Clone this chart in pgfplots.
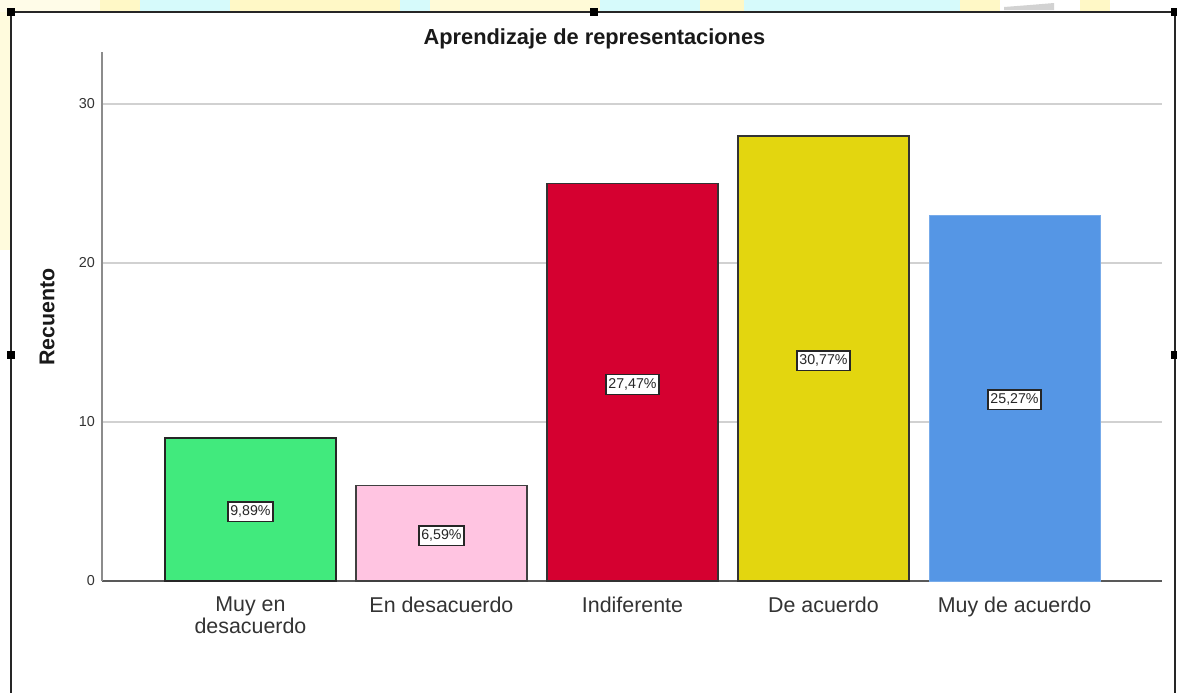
\documentclass[border=0pt]{standalone}
\usepackage{pgfplots}
\pgfplotsset{compat=1.18}
\usepackage{fontspec}
\setmainfont{Liberation Sans}
\definecolor{cgreen}{HTML}{41EA7D}
\definecolor{cpink}{HTML}{FFC4E1}
\definecolor{cred}{HTML}{D50030}
\definecolor{cyellow}{HTML}{E3D60F}
\definecolor{cblue}{HTML}{5596E5}
\definecolor{bgyel}{HTML}{FFF8C6}
\definecolor{bgcyan}{HTML}{D6FAFB}
\begin{document}
\begin{tikzpicture}
\useasboundingbox (0,0) rectangle (588.5pt,-346pt);
\fill[white] (0,0) rectangle (588.5pt,-346pt);
% decorative background strip
\begin{scope}
\clip (0,0) rectangle (588.5pt,-6pt);
\fill[bgyel!40] (0,0) rectangle (50pt,-6pt);
\fill[bgyel] (50pt,0) rectangle (70pt,-6pt);
\fill[bgcyan] (70pt,0) rectangle (115pt,-6pt);
\fill[bgyel] (115pt,0) rectangle (200pt,-6pt);
\fill[bgcyan] (200pt,0) rectangle (215pt,-6pt);
\fill[bgyel!70] (215pt,0) rectangle (300pt,-6pt);
\fill[bgcyan] (300pt,0) rectangle (350pt,-6pt);
\fill[bgyel] (350pt,0) rectangle (372pt,-6pt);
\fill[bgcyan] (372pt,0) rectangle (480pt,-6pt);
\fill[bgyel] (480pt,0) rectangle (500pt,-6pt);
\fill[gray!35] (502pt,-5pt) -- (527pt,-5pt) -- (527pt,-1.5pt) -- (515pt,-2.5pt) -- (502pt,-3.5pt) -- cycle;
\fill[bgyel] (540pt,0) rectangle (555pt,-6pt);
\end{scope}
\fill[bgyel!60] (0,-6pt) rectangle (5pt,-125pt);
\begin{axis}[
  at={(51pt,-290.5pt)}, anchor=south west,
  scale only axis, width=530pt, height=264.5pt,
  xmin=-0.777, xmax=4.772, ymin=0, ymax=33.27,
  axis x line*=bottom, axis y line*=left,
  x axis line style={-, draw=black!65, line width=0.8pt},
  y axis line style={-, draw=black!45, line width=0.8pt},
  xtick={0,1,2,3,4},
  xticklabels={{Muy en\\desacuerdo},{En desacuerdo},{Indiferente},{De acuerdo},{Muy de acuerdo}},
  xticklabel style={align=center, font=\fontsize{10.7}{11}\selectfont, text=black!80, yshift=-4.5pt},
  ytick={0,10,20,30},
  yticklabel style={font=\fontsize{7.2}{8}\selectfont, text=black!80},
  /pgf/number format/assume math mode=true,
  major tick length=0pt,
  ymajorgrids, grid style={draw=black!18, line width=1pt},
  clip=false,
]
\addplot[ybar, bar width=85.5pt, bar shift=0pt, fill=cgreen, draw=black!85, line width=0.7pt] coordinates {(0,9)};
\addplot[ybar, bar width=85.5pt, bar shift=0pt, fill=cpink, draw=black!75, line width=0.7pt] coordinates {(1,6)};
\addplot[ybar, bar width=85.5pt, bar shift=0pt, fill=cred, draw=black!80, line width=0.7pt] coordinates {(2,25)};
\addplot[ybar, bar width=85.5pt, bar shift=0pt, fill=cyellow, draw=black!80, line width=0.7pt] coordinates {(3,28)};
\addplot[ybar, bar width=85.5pt, bar shift=0pt, fill=cblue, draw=cblue!80!white, line width=0.5pt] coordinates {(4,23)};
\addplot[draw=none, mark=none, nodes near coords, point meta=explicit symbolic,
  nodes near coords style={anchor=center, fill=white, draw=black!85, line width=0.7pt, inner xsep=1.2pt, inner ysep=2pt,
    font=\fontsize{7.1}{8}\selectfont, text=black!85}]
  coordinates {(0,4.35)[9,89\%] (1,2.85)[6,59\%] (2,12.35)[27,47\%] (3,13.85)[30,77\%] (4,11.4)[25,27\%]};
\end{axis}
\node[font=\bfseries\fontsize{10.9}{12}\selectfont, text=black!90] at (297.25pt,-19.3pt) {Aprendizaje de representaciones};
\node[font=\bfseries\fontsize{10.7}{12}\selectfont, rotate=90, text=black!90] at (23.5pt,-158.5pt) {Recuento};
% frame
\draw[black!85, line width=0.7pt] (5.5pt,-350pt) -- (5.5pt,-6pt) -- (587.5pt,-6pt) -- (587.5pt,-350pt);
\foreach \p in {(5.5pt,-6pt),(297pt,-6pt),(587.5pt,-6pt),(5.5pt,-177.5pt),(587.5pt,-177.5pt)}
  \fill[black] \p +(-1.8pt,-1.8pt) rectangle +(1.8pt,1.8pt);
\end{tikzpicture}
\end{document}
